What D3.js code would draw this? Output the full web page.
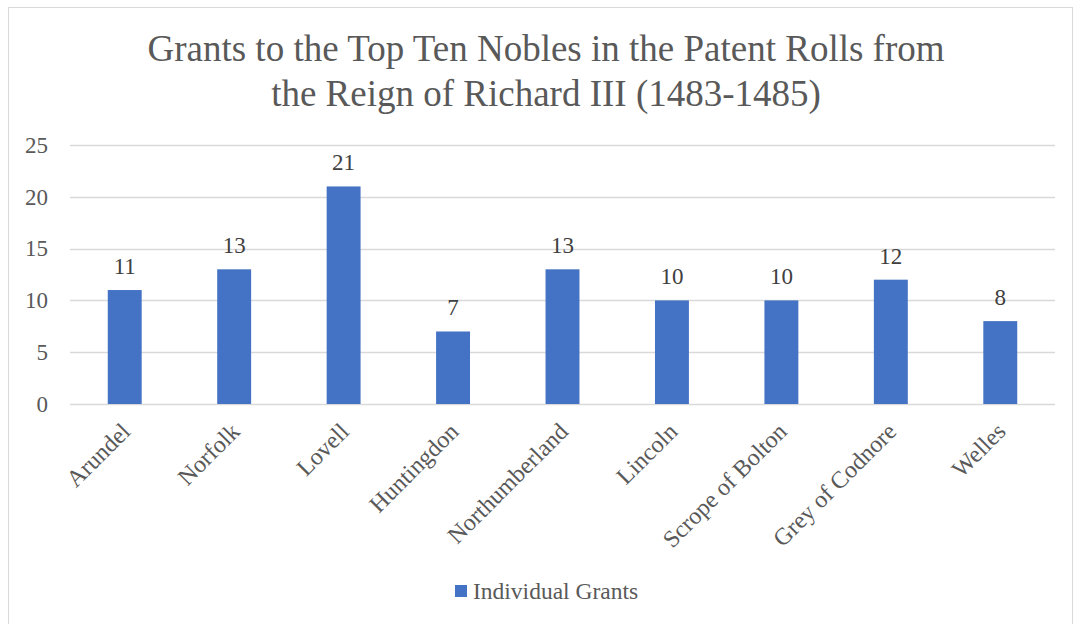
<!DOCTYPE html>
<html>
<head>
<meta charset="utf-8">
<script src="https://cdn.jsdelivr.net/npm/d3@7"></script>
<style>
  body { margin: 0; background: #fff; }
</style>
</head>
<body>
<div id="chart"></div>
<script>
// chart data
const nobles = ['Arundel', 'Norfolk', 'Lovell', 'Huntingdon', 'Northumberland', 'Lincoln', 'Scrope of Bolton', 'Grey of Codnore', 'Welles'];
const grants = [11, 13, 21, 7, 13, 10, 10, 12, 8];
const yTicks = [0, 5, 10, 15, 20, 25];
const seriesName = 'Individual Grants';
const titleLines = ['Grants to the Top Ten Nobles in the Patent Rolls from', 'the Reign of Richard III (1483-1485)'];

const FONT = '"Liberation Serif", "Times New Roman", serif';
const W = 1073, H = 624;
const margin = { top: 145, right: 18, bottom: 220, left: 70 };
const width = W - margin.left - margin.right;
const height = H - margin.top - margin.bottom;

const svg = d3.select('#chart')
  .append('svg')
  .attr('width', W)
  .attr('height', H)
  .style('font-family', FONT);

// chart border
svg.append('rect')
  .attr('x', 8.5).attr('y', 7.5)
  .attr('width', W - 9).attr('height', H)
  .attr('fill', 'none')
  .attr('stroke', '#d9d9d9');

// title
svg.append('text')
  .attr('text-anchor', 'middle')
  .attr('fill', '#595959')
  .attr('font-size', '37px')
  .style('font-family', FONT)
  .selectAll('tspan')
  .data(titleLines)
  .enter().append('tspan')
  .attr('x', 546)
  .attr('y', (d, i) => 61 + i * 45)
  .text(d => d);

const g = svg.append('g')
  .attr('transform', `translate(${margin.left}, ${margin.top})`);

const x = d3.scaleBand()
  .domain(nobles)
  .range([0, width])
  .paddingInner(0.69)
  .paddingOuter(0.345);

const y = d3.scaleLinear()
  .domain([0, 25])
  .range([height, 0]);

// gridlines
g.append('g')
  .selectAll('line')
  .data(yTicks)
  .enter().append('line')
  .attr('x1', 0).attr('x2', width)
  .attr('y1', d => Math.round(y(d)) + 0.5)
  .attr('y2', d => Math.round(y(d)) + 0.5)
  .attr('stroke', '#d9d9d9')
  .attr('stroke-width', 1.5);

// y axis labels
const yAxis = g.append('g')
  .call(d3.axisLeft(y).tickValues(yTicks).tickSize(0).tickPadding(22));
yAxis.select('.domain').remove();
yAxis.selectAll('text')
  .attr('fill', '#595959')
  .attr('font-size', '23px')
  .style('font-family', FONT);

// x axis labels
const xAxis = g.append('g')
  .attr('transform', `translate(0, ${height})`)
  .call(d3.axisBottom(x).tickSize(0));
xAxis.select('.domain').remove();
xAxis.selectAll('text')
  .attr('fill', '#595959')
  .attr('font-size', '24px')
  .style('font-family', FONT)
  .style('text-anchor', 'end')
  .attr('x', 0).attr('y', 0)
  .attr('dy', '0.35em')
  .attr('transform', 'translate(1, 23) rotate(-45)');

// bars
g.selectAll('.bar')
  .data(grants)
  .enter().append('rect')
  .attr('class', 'bar')
  .attr('x', (d, i) => x(nobles[i]))
  .attr('y', d => y(d))
  .attr('width', x.bandwidth())
  .attr('height', d => height - y(d))
  .attr('fill', '#4472c4');

// value labels
g.selectAll('.val')
  .data(grants)
  .enter().append('text')
  .attr('class', 'val')
  .attr('x', (d, i) => x(nobles[i]) + x.bandwidth() / 2)
  .attr('y', d => y(d) - 16)
  .attr('text-anchor', 'middle')
  .attr('fill', '#404040')
  .attr('font-size', '23px')
  .style('font-family', FONT)
  .text(d => d);

// legend
const legend = svg.append('g').attr('transform', 'translate(455, 591)');
legend.append('rect')
  .attr('x', 0).attr('y', -6)
  .attr('width', 12).attr('height', 12)
  .attr('fill', '#4472c4');
legend.append('text')
  .attr('x', 18).attr('y', 8)
  .attr('fill', '#595959')
  .attr('font-size', '23.5px')
  .style('font-family', FONT)
  .text(seriesName);
</script>
</body>
</html>
